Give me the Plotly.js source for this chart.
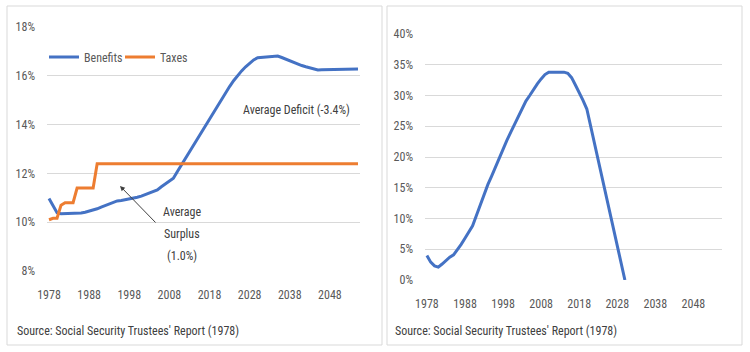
<!DOCTYPE html>
<html>
<head>
<meta charset="utf-8">
<script src="https://cdn.plot.ly/plotly-3.0.1.min.js"></script>
<style>html,body{margin:0;padding:0;background:#fff;}#chart{width:750px;height:352px;}</style>
</head>
<body>
<div id="chart"></div>
<script>
// Categories (years)
const years = [1978,1979,1980,1981,1982,1983,1984,1985,1986,1987,1988,1989,1990,1991,1992,1993,1994,1995,1996,1997,
  1998,1999,2000,2001,2002,2003,2004,2005,2006,2007,2008,2009,2010,2011,2012,2013,2014,2015,2016,2017,
  2018,2019,2020,2021,2022,2023,2024,2025,2026,2027,2028,2029,2030,2031,2032,2033,2034,2035,2036,2037,
  2038,2039,2040,2041,2042,2043,2044,2045,2046,2047,2048,2049,2050,2051,2052,2053,2054,2055];

// Left panel: cost (benefits) and income (taxes), % of taxable payroll
const benefits = [10.97,10.68,10.39,10.35,10.35,10.35,10.35,10.35,10.38,10.41,10.45,10.48,10.55,10.62,10.69,10.75,10.81,10.87,10.89,10.92,
  10.94,10.98,11.02,11.07,11.13,11.20,11.26,11.32,11.45,11.57,11.68,11.80,12.08,12.35,12.60,12.88,13.15,13.42,13.70,13.97,
  14.24,14.52,14.80,15.07,15.32,15.56,15.80,16.02,16.20,16.37,16.52,16.65,16.74,16.75,16.76,16.78,16.80,16.81,16.75,16.68,
  16.61,16.54,16.47,16.42,16.37,16.32,16.27,16.24,16.25,16.25,16.26,16.26,16.26,16.27,16.27,16.27,16.27,16.28];
const taxes = [10.10,10.16,10.16,10.70,10.80,10.80,10.80,11.40,11.40,11.40,11.40,11.40,12.40,12.40,12.40,12.40,12.40,12.40,12.40,12.40,
  12.40,12.40,12.40,12.40,12.40,12.40,12.40,12.40,12.40,12.40,12.40,12.40,12.40,12.40,12.40,12.40,12.40,12.40,12.40,12.40,
  12.40,12.40,12.40,12.40,12.40,12.40,12.40,12.40,12.40,12.40,12.40,12.40,12.40,12.40,12.40,12.40,12.40,12.40,12.40,12.40,
  12.40,12.40,12.40,12.40,12.40,12.40,12.40,12.40,12.40,12.40,12.40,12.40,12.40,12.40,12.40,12.40,12.40,12.40];

// Right panel: trust fund ratio (%), 1978-2030
const trustFund = [4.0,2.9,2.3,2.1,2.6,3.2,3.7,4.1,4.9,5.8,6.8,7.8,8.8,10.5,12.2,13.9,15.5,16.9,18.4,19.9,
  21.3,22.7,24.0,25.3,26.6,27.9,29.1,30.0,31.0,31.9,32.7,33.4,33.8,33.8,33.8,33.8,33.8,33.6,32.9,31.7,
  30.5,29.2,27.8,25.0,22.5,19.7,16.8,14.0,11.2,8.4,5.6,2.8,0.0];

// Tick labels
const xTickVals = [1978,1988,1998,2008,2018,2028,2038,2048];
const xTickText = ['1978','1988','1998','2008','2018','2028','2038','2048'];
const leftTickVals = [8,10,12,14,16,18];
const leftTickText = ['8%','10%','12%','14%','16%','18%'];
const rightTickVals = [0,5,10,15,20,25,30,35,40];
const rightTickText = ['0%','5%','10%','15%','20%','25%','30%','35%','40%'];

const seriesNames = ['Benefits','Taxes'];
const sourceText = "Source: Social Security Trustees' Report (1978)";
const deficitText = 'Average Deficit (-3.4%)';
const surplusLines = ['Average','Surplus','(1.0%)'];

const FONT = '"Liberation Sans Narrow", "Roboto Condensed", Roboto, sans-serif';
const FS = 12;
const W = 750, H = 352;
const px = v => v / W;
const py = v => 1 - v / H;
const blue = '#4472C4', orange = '#ED7D31', grid = '#D9D9D9', tickCol = '#595959', textCol = '#404040';

const traces = [
  {x: years, y: benefits, name: seriesNames[0], type: 'scatter', mode: 'lines',
   line: {color: blue, width: 3}, xaxis: 'x', yaxis: 'y', hoverinfo: 'skip'},
  {x: years, y: taxes, name: seriesNames[1], type: 'scatter', mode: 'lines',
   line: {color: orange, width: 3}, xaxis: 'x', yaxis: 'y', hoverinfo: 'skip'},
  {x: years.slice(0, trustFund.length), y: trustFund, name: 'Trust fund ratio', type: 'scatter', mode: 'lines',
   line: {color: blue, width: 3}, xaxis: 'x2', yaxis: 'y2', showlegend: false, hoverinfo: 'skip'}
];

const xCommon = {
  range: [1977.5, 2055.5], tickmode: 'array', tickvals: xTickVals, ticktext: xTickText,
  showgrid: false, zeroline: false, showline: false, ticks: '', ticklabelstandoff: 15,
  tickfont: {family: FONT, size: FS, color: tickCol}, fixedrange: true
};
const yCommon = {
  tickmode: 'array', showgrid: true, gridcolor: grid, gridwidth: 1, zeroline: false, showline: false,
  ticks: '', ticklabelstandoff: 11, tickfont: {family: FONT, size: FS, color: tickCol}, fixedrange: true
};

const annotations = [
  {xref: 'paper', yref: 'paper', x: px(296), y: py(110), text: deficitText, showarrow: false,
   xanchor: 'center', yanchor: 'middle', font: {family: FONT, size: FS, color: textCol}},
  {xref: 'paper', yref: 'paper', x: px(120), y: py(186), text: '', showarrow: true,
   ax: 37, ay: 38, arrowhead: 2, arrowsize: 1, arrowwidth: 1, arrowcolor: textCol},
  {xref: 'paper', yref: 'paper', x: px(15), y: py(331), text: sourceText, showarrow: false,
   xanchor: 'left', yanchor: 'middle', font: {family: FONT, size: FS, color: textCol}},
  {xref: 'paper', yref: 'paper', x: px(393), y: py(331), text: sourceText, showarrow: false,
   xanchor: 'left', yanchor: 'middle', font: {family: FONT, size: FS, color: textCol}}
];
const surplusY = [212, 234, 256];
surplusLines.forEach((t, i) => annotations.push({
  xref: 'paper', yref: 'paper', x: px(182), y: py(surplusY[i]), text: t, showarrow: false,
  xanchor: 'center', yanchor: 'middle', font: {family: FONT, size: FS, color: textCol}
}));

const layout = {
  width: W, height: H, margin: {l: 0, r: 0, t: 0, b: 0},
  paper_bgcolor: '#fff', plot_bgcolor: 'rgba(0,0,0,0)',
  font: {family: FONT, size: FS, color: tickCol},
  showlegend: true,
  legend: {orientation: 'h', x: px(44), y: py(57), xanchor: 'left', yanchor: 'middle',
           bgcolor: 'rgba(0,0,0,0)', borderwidth: 0, font: {family: FONT, size: FS, color: tickCol},
           entrywidthmode: 'pixels', entrywidth: 31, tracegroupgap: 0},
  xaxis: Object.assign({}, xCommon, {domain: [px(47), px(360)], anchor: 'y'}),
  yaxis: Object.assign({}, yCommon, {domain: [py(271), py(27)], range: [8, 18], tickvals: leftTickVals, ticktext: leftTickText, anchor: 'x'}),
  xaxis2: Object.assign({}, xCommon, {domain: [px(425), px(722)], anchor: 'y2'}),
  yaxis2: Object.assign({}, yCommon, {domain: [py(280), py(34)], range: [0, 40], tickvals: rightTickVals, ticktext: rightTickText, anchor: 'x2'}),
  shapes: [
    {type: 'rect', xref: 'paper', yref: 'paper', x0: px(7), x1: px(382), y0: py(345), y1: py(6),
     line: {color: grid, width: 1}, fillcolor: 'rgba(0,0,0,0)', layer: 'below'},
    {type: 'rect', xref: 'paper', yref: 'paper', x0: px(387), x1: px(742), y0: py(345), y1: py(6),
     line: {color: grid, width: 1}, fillcolor: 'rgba(0,0,0,0)', layer: 'below'}
  ],
  annotations: annotations
};

Plotly.newPlot('chart', traces, layout, {staticPlot: true, displayModeBar: false});
</script>
</body>
</html>
